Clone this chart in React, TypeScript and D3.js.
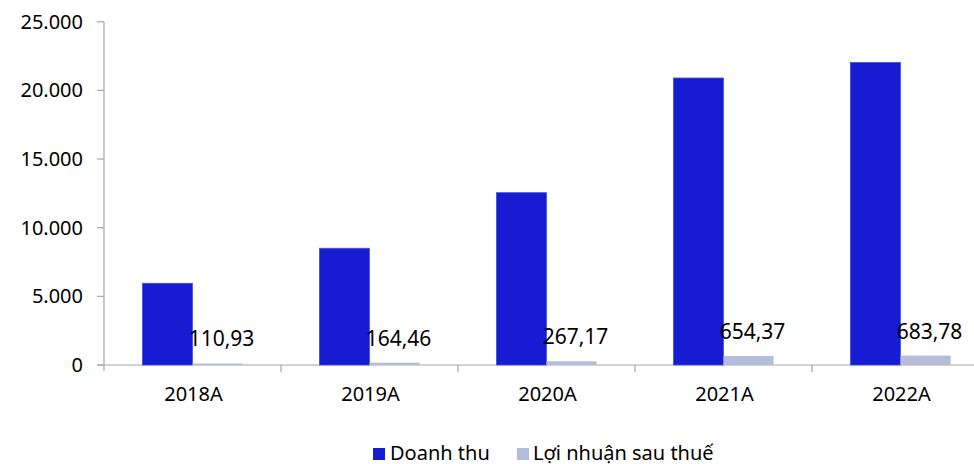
import React from "react";
import * as d3 from "d3";

const categories = ["2018A", "2019A", "2020A", "2021A", "2022A"];
const revenue = [5950, 8500, 12550, 20900, 22030];
const profit = [110.93, 164.46, 267.17, 654.37, 683.78];
const yTicks = [0, 5000, 10000, 15000, 20000, 25000];
const seriesNames = ["Doanh thu", "Lợi nhuận sau thuế"];

const W = 974;
const H = 464;
const FONT = "Tahoma, 'Noto Sans', sans-serif";
const BLUE = "#161cd2";
const LIGHT = "#b4bedc";
const AXIS = "#a6a6a6";

const locale = d3.formatLocale({ decimal: ",", thousands: ".", grouping: [3], currency: ["", ""] });
const fmtTick = locale.format(",.0f");
const fmtLabel = locale.format(",.2f");

export default function App() {
  const x = d3.scaleBand().domain(categories).range([104, 989]).padding(0);
  const y = d3.scaleLinear().domain([0, 25000]).range([365, 21.7]);
  const barW = x.bandwidth() * 0.283;
  const inner = d3.scaleBand().domain(["a", "b"]).range([0, barW * 2]);

  return (
    <svg width={W} height={H} style={{ position: "absolute", left: 0, top: 0 }} fontFamily={FONT}>
      <rect width={W} height={H} fill="#fff" />
      {/* y axis */}
      <line x1={104} x2={104} y1={y(25000)} y2={y(0) + 6} stroke={AXIS} strokeWidth={1.2} />
      {yTicks.map((t) => (
        <g key={t}>
          <line x1={97} x2={104} y1={y(t)} y2={y(t)} stroke={AXIS} strokeWidth={1.2} />
          <text x={83} y={y(t)} dy="0.35em" textAnchor="end" fontSize={20} fill="#000">
            {fmtTick(t)}
          </text>
        </g>
      ))}
      {/* x axis */}
      <line x1={97} x2={989} y1={y(0)} y2={y(0)} stroke={AXIS} strokeWidth={1.2} />
      {categories.map((c) => (
        <line key={"t" + c} x1={(x(c) as number) + x.bandwidth()} x2={(x(c) as number) + x.bandwidth()} y1={y(0)} y2={y(0) + 7} stroke={AXIS} strokeWidth={1.2} />
      ))}
      {categories.map((c, i) => {
        const cx = (x(c) as number) + x.bandwidth() / 2;
        const gx = cx - barW;
        return (
          <g key={c}>
            <rect x={gx + (inner("a") as number)} y={y(revenue[i])} width={barW} height={y(0) - y(revenue[i])} fill={BLUE} stroke="#4650dc" strokeWidth={0.8} />
            <rect x={gx + (inner("b") as number)} y={y(profit[i])} width={barW} height={y(0) - y(profit[i])} fill={LIGHT} />
            <text x={gx + (inner("b") as number) + barW / 2 + 4} y={y(profit[i]) - 17} textAnchor="middle" fontSize={21} fill="#000">
              {fmtLabel(profit[i])}
            </text>
            <text x={cx + 1} y={401} textAnchor="middle" fontSize={20} fill="#000">
              {c}
            </text>
          </g>
        );
      })}
      {/* legend */}
      <rect x={373} y={448} width={12} height={12} fill={BLUE} />
      <text x={390} y={460} fontSize={20} fill="#000">{seriesNames[0]}</text>
      <rect x={517} y={448} width={12} height={12} fill={LIGHT} />
      <text x={533} y={460} fontSize={20} fill="#000">{seriesNames[1]}</text>
    </svg>
  );
}
